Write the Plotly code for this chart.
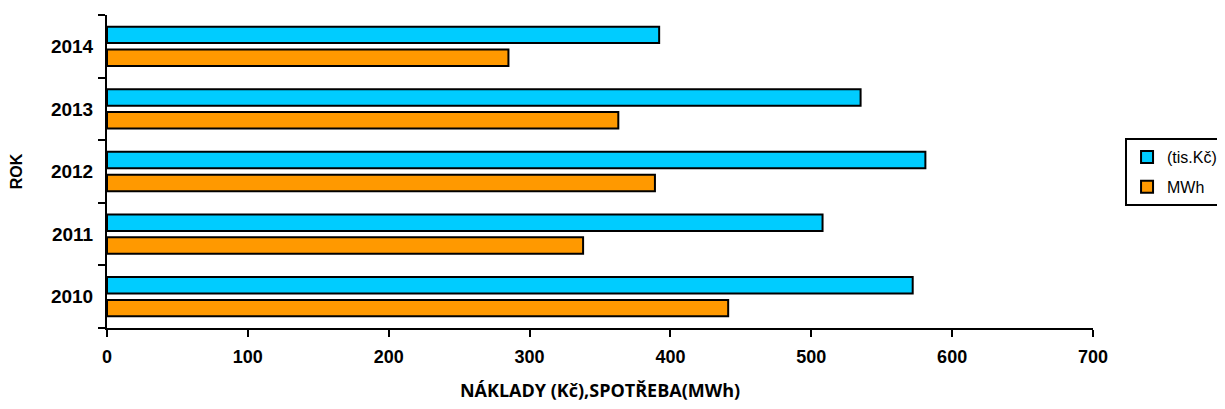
import plotly.graph_objects as go

years = ["2010", "2011", "2012", "2013", "2014"]
naklady_tis_kc = [572, 508, 581, 535, 392]
spotreba_mwh = [441, 338, 389, 363, 285]
x_ticks = [0, 100, 200, 300, 400, 500, 600, 700]

ARIAL = "Liberation Sans, Arial, sans-serif"

fig = go.Figure()
fig.add_trace(go.Bar(
    y=years, x=spotreba_mwh, orientation="h", name="MWh",
    legendgroup="b", legendrank=2,
    marker=dict(color="#FF9900", line=dict(color="black", width=2)),
))
fig.add_trace(go.Bar(
    y=years, x=naklady_tis_kc, orientation="h", name="(tis.Kč)",
    legendgroup="a", legendrank=1,
    marker=dict(color="#00CCFF", line=dict(color="black", width=2)),
))

fig.update_layout(
    width=1217, height=401,
    margin=dict(l=99, r=132, t=7, b=81, autoexpand=False),
    paper_bgcolor="white", plot_bgcolor="white",
    barmode="group", bargap=0.27, bargroupgap=0.28,
    font=dict(family=ARIAL, color="black"),
    showlegend=True,
    legend=dict(
        x=1.0325, y=0.607, xanchor="left", yanchor="top",
        bordercolor="black", borderwidth=2, bgcolor="white",
        font=dict(family=ARIAL, size=16, color="black"),
        tracegroupgap=6, traceorder="grouped",
        itemwidth=30,
    ),
    xaxis=dict(
        range=[0, 700], tickvals=x_ticks, ticktext=[str(v) for v in x_ticks],
        showgrid=False, zeroline=False,
        showline=True, linecolor="black", linewidth=2,
        ticks="outside", ticklen=7, tickwidth=2, tickcolor="black",
        tickfont=dict(family=ARIAL, size=18, color="black", weight="bold"),
        ticklabelstandoff=4,
        title=dict(text="NÁKLADY (Kč),SPOTŘEBA(MWh)",
                   font=dict(family="Open Sans, Lato, sans-serif", size=18,
                             color="black", weight="bold"),
                   standoff=19),
    ),
    yaxis=dict(
        type="category", categoryorder="array", categoryarray=years,
        range=[-0.5, 4.5],
        showgrid=False, zeroline=False,
        showline=True, linecolor="black", linewidth=2,
        ticks="outside", ticklen=7, tickwidth=2, tickcolor="black",
        tickson="boundaries",
        tickfont=dict(family=ARIAL, size=19, color="black", weight="bold"),
        ticklabelstandoff=8,
        title=dict(text="ROK",
                   font=dict(family=ARIAL, size=16, color="black", weight="bold"),
                   standoff=30),
    ),
)

fig.write_html("out.html")
